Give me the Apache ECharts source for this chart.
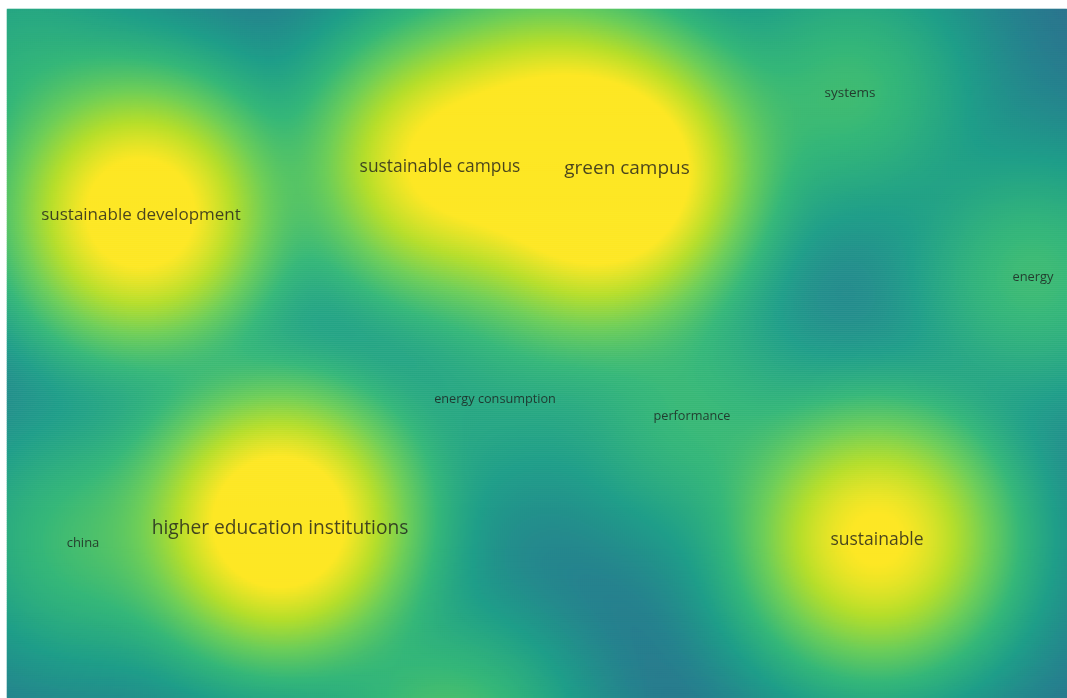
<!DOCTYPE html>
<html>
<head>
<meta charset="utf-8">
<script src="https://cdn.jsdelivr.net/npm/echarts@6/dist/echarts.min.js"></script>
<style>
  html, body { margin: 0; padding: 0; background: #fff; }
  #chart { width: 1067px; height: 698px; }
</style>
</head>
<body>
<div id="chart"></div>
<script>
// Keyword map (VOSviewer-style density view), positions in map units.
// Items with an empty label are drawn in the density only (their labels are hidden in the source).
const labels = ["green campus", "sustainable campus", "sustainable development", "higher education institutions",
  "sustainable", "energy consumption", "performance", "systems", "energy", "china",
  "", "", "", ""];
const posX = [620, 433, 134, 273, 870, 488, 685, 843, 1026, 76, 538, 578, 13, 443];
const posY = [159, 157, 205, 514, 531, 390, 407, 83, 268, 534, 106, 211, 51, 730];
const weights = [1.0, 0.95, 1.05, 1.1, 0.97, 0.35, 0.47, 0.5, 0.5, 0.5, 0.82, 0.82, 0.4, 0.55];
const fontSizes = [19, 17.4, 17, 19.2, 17.5, 12.7, 12.7, 13.5, 12.9, 13, 0, 0, 0, 0];

const MAP_W = 1060, MAP_H = 690;
const CELL = 2;
const NX = MAP_W / CELL, NY = MAP_H / CELL;
const KERNEL = 120; // kernel width
const POWER = 3;    // items combine as a p-norm, so blobs keep their own shape
const CAP = 0.95;   // density shown as full yellow

// viridis, upper part only
const VIRIDIS = ["#31688e", "#26828e", "#1f9e89", "#35b779", "#6ece58", "#b5de2b", "#fde725"];

const cells = [];
for (let j = 0; j < NY; j++) {
  const y = (j + 0.5) * CELL;
  for (let i = 0; i < NX; i++) {
    const x = (i + 0.5) * CELL;
    let s = 0;
    for (let k = 0; k < labels.length; k++) {
      const dx = x - posX[k], dy = y - posY[k];
      const v = weights[k] * Math.exp(-(dx * dx + dy * dy) / (2 * KERNEL * KERNEL));
      s += Math.pow(v, POWER);
    }
    cells.push([i, j, Math.min(Math.pow(s, 1 / POWER), CAP)]);
  }
}

const chart = echarts.init(document.getElementById("chart"));
const gridBox = { left: 7, top: 9, width: MAP_W, height: MAP_H };

chart.setOption({
  animation: false,
  backgroundColor: "#ffffff",
  grid: [gridBox, gridBox],
  xAxis: [
    { type: "category", gridIndex: 0, data: Array.from({ length: NX }, (_, i) => i), show: false },
    { type: "value", gridIndex: 1, min: 0, max: MAP_W, show: false }
  ],
  yAxis: [
    { type: "category", gridIndex: 0, data: Array.from({ length: NY }, (_, i) => i), inverse: true, show: false },
    { type: "value", gridIndex: 1, min: 0, max: MAP_H, inverse: true, show: false }
  ],
  visualMap: {
    show: false,
    type: "continuous",
    seriesIndex: 0,
    min: 0,
    max: CAP,
    inRange: { color: VIRIDIS }
  },
  series: [
    {
      type: "heatmap",
      xAxisIndex: 0,
      yAxisIndex: 0,
      data: cells,
      progressive: 0
    },
    {
      type: "scatter",
      xAxisIndex: 1,
      yAxisIndex: 1,
      symbolSize: 0,
      data: labels.map((name, k) => ({ name, value: [posX[k], posY[k] + (k === 3 ? 6 : 1)], k })).filter(d => d.name)
        .map(d => ({
          value: d.value,
          label: {
            show: true,
            position: "inside",
            formatter: d.name,
            fontFamily: "Open Sans",
            fontSize: fontSizes[d.k],
            color: "#1c1c1c"
          }
        }))
    }
  ]
});
</script>
</body>
</html>
